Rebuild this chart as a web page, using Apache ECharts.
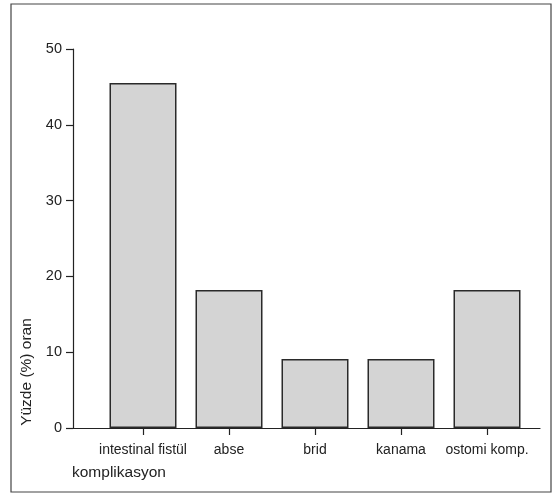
<!DOCTYPE html>
<html>
<head>
<meta charset="utf-8">
<script src="https://cdn.jsdelivr.net/npm/echarts@6/dist/echarts.min.js"></script>
<style>
html,body{margin:0;padding:0;background:#fff;}
#chart{width:559px;height:496px;}
</style>
</head>
<body>
<div id="chart"></div>
<script>
var categories = ['intestinal fistül', 'abse', 'brid', 'kanama', 'ostomi komp.'];
var values = [45.5, 18.2, 9.1, 9.1, 18.2];
var yTicks = [0, 10, 20, 30, 40, 50];
var yAxisTitle = 'Yüzde (%) oran';
var xAxisTitle = 'komplikasyon';

var chart = echarts.init(document.getElementById('chart'), null, {renderer: 'canvas'});
var font = 'Liberation Sans, Arial, Helvetica, sans-serif';
var textColor = '#222';
var option = {
  backgroundColor: '#ffffff',
  animation: false,
  grid: [
    {left: 73, right: 19, top: 49, bottom: 68},
    {left: 100, right: 29, top: 49, bottom: 68}
  ],
  xAxis: [
    {
      type: 'value', gridIndex: 0, min: 0, max: 1,
      axisLine: {show: true, onZero: false, lineStyle: {color: '#222', width: 1.2}},
      axisTick: {show: false}, axisLabel: {show: false}, splitLine: {show: false}
    },
    {
      type: 'category', gridIndex: 1, data: categories,
      axisLine: {show: false},
      axisTick: {show: true, alignWithLabel: true, length: 7, lineStyle: {color: '#222', width: 1.2}},
      axisLabel: {fontFamily: font, fontSize: 14, color: textColor, margin: 15, interval: 0, hideOverlap: false},
      splitLine: {show: false}
    }
  ],
  yAxis: [
    {
      type: 'value', gridIndex: 0, min: yTicks[0], max: yTicks[yTicks.length - 1], interval: 10,
      axisLine: {show: true, lineStyle: {color: '#222', width: 1.2}},
      axisTick: {show: true, length: 7, lineStyle: {color: '#222', width: 1.2}},
      axisLabel: {fontFamily: font, fontSize: 14.5, color: textColor, margin: 11},
      splitLine: {show: false}
    },
    {
      type: 'value', gridIndex: 1, min: yTicks[0], max: yTicks[yTicks.length - 1], interval: 10,
      show: false, splitLine: {show: false}
    }
  ],
  series: [
    {
      type: 'bar', xAxisIndex: 1, yAxisIndex: 1, data: values,
      barWidth: 67,
      itemStyle: {color: '#d4d4d4', borderColor: '#2a2a2a', borderWidth: 1.5}
    }
  ],
  graphic: [
    {
      type: 'rect', shape: {x: 11, y: 4, width: 540, height: 488},
      style: {fill: 'none', stroke: '#444', lineWidth: 1.2}, silent: true, z: -1
    },
    {
      type: 'text', x: 72, y: 465,
      style: {text: xAxisTitle, font: '15.5px ' + font, fill: textColor}
    },
    {
      type: 'text', x: 27, y: 372, rotation: Math.PI / 2,
      style: {text: yAxisTitle, font: '15.5px ' + font, fill: textColor, align: 'center', verticalAlign: 'middle'}
    }
  ]
};
chart.setOption(option);
</script>
</body>
</html>
